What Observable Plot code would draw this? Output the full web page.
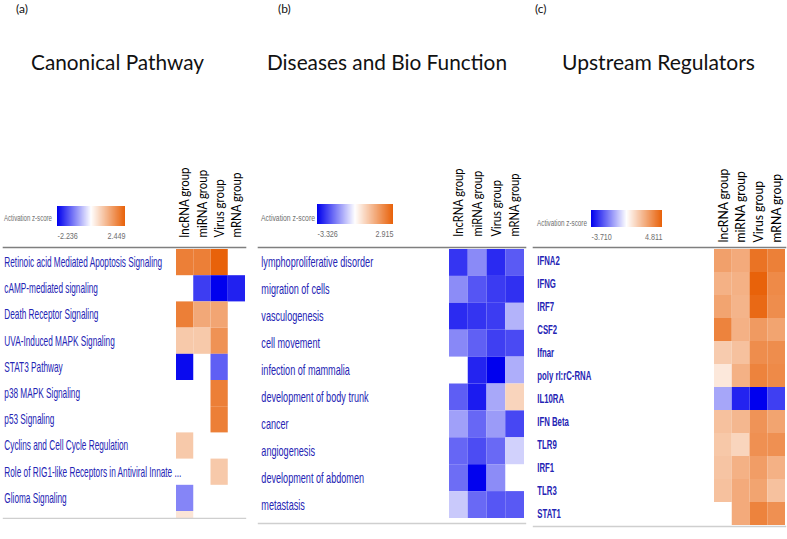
<!DOCTYPE html>
<html>
<head>
<meta charset="utf-8">
<script src="https://cdn.jsdelivr.net/npm/d3@7"></script>
<script src="https://cdn.jsdelivr.net/npm/@observablehq/plot@0.6"></script>
<style>
html, body { margin: 0; padding: 0; background: #fff; }
#root { position: relative; width: 787px; height: 539px; overflow: hidden; background: #fff; }
#root > svg, #root > div { position: absolute; }
</style>
</head>
<body>
<div id="root"></div>
<script>
// ---------- data ----------
const groups = ["lncRNA group", "miRNA group", "Virus group", "mRNA group"];

const pathways = [
  "Retinoic acid Mediated Apoptosis Signaling",
  "cAMP-mediated signaling",
  "Death Receptor Signaling",
  "UVA-Induced MAPK Signaling",
  "STAT3 Pathway",
  "p38 MAPK Signaling",
  "p53 Signaling",
  "Cyclins and Cell Cycle Regulation",
  "Role of RIG1-like Receptors in Antiviral Innate ...",
  "Glioma Signaling",
  "Aryl Hydrocarbon Receptor Signaling"
];
const pathwayZ = [
  [2.0, 2.0, 2.449, null],
  [null, -1.7, -2.236, -1.95],
  [2.0, 1.35, 1.4, null],
  [0.85, 0.85, 1.7, null],
  [-2.15, null, -1.4, null],
  [null, null, 2.0, null],
  [null, null, 2.0, null],
  [0.85, null, null, null],
  [null, null, 0.85, null],
  [-1.07, null, null, null],
  [0.4, null, null, null]
];
const pathwayRange = [-2.236, 2.449];

const diseases = [
  "lymphoproliferative disorder",
  "migration of cells",
  "vasculogenesis",
  "cell movement",
  "infection of mammalia",
  "development of body trunk",
  "cancer",
  "angiogenesis",
  "development of abdomen",
  "metastasis"
];
const diseaseZ = [
  [-2.63, -1.53, -2.78, -2.15],
  [-1.5, -2.22, -2.56, -2.7],
  [-2.76, -2.65, -2.54, -0.99],
  [-1.55, -2.07, -2.5, -2.36],
  [null, -2.86, -3.326, -1.06],
  [-2.1, -2.98, -1.13, 0.8],
  [-1.24, -1.98, -1.3, -2.4],
  [-2.0, -2.33, -1.95, -0.6],
  [-1.9, -3.3, -1.5, null],
  [-0.7, -1.95, -2.2, -2.17]
];
const diseaseRange = [-3.326, 2.915];

const regulators = [
  "IFNA2", "IFNG", "IRF7", "CSF2", "Ifnar", "poly rI:rC-RNA",
  "IL10RA", "IFN Beta", "TLR9", "IRF1", "TLR3", "STAT1"
];
const regulatorZ = [
  [2.9, 2.6, 4.3, 3.9],
  [2.4, 2.4, 4.811, 3.6],
  [2.8, 2.3, 4.6, 3.5],
  [3.8, 2.4, 3.1, 2.8],
  [1.6, 1.9, 3.5, 3.5],
  [0.7, 2.4, 3.8, 3.6],
  [-1.3, -3.2, -3.71, -2.8],
  [1.9, 2.2, 3.3, 2.8],
  [1.7, 1.3, 3.4, 3.4],
  [1.8, 2.4, 3.0, 2.4],
  [1.9, 2.6, 2.8, 1.9],
  [null, 2.6, 3.8, 3.4]
];
const regulatorRange = [-3.710, 4.811];

const panelLetters = ["(a)", "(b)", "(c)"];
const panelTitles = ["Canonical Pathway", "Diseases and Bio Function", "Upstream Regulators"];
const legendLabel = "Activation z-score";

// ---------- style / layout ----------
const BLUE = "#0000ee";
const ORANGE = "#e8620a";
const ROWCOLOR = "#2424b4";

const panels = [
  {rows: pathways, z: pathwayZ, range: pathwayRange,
   left: 0, width: 255, height: 519, mL: 3, mR: 10, mT: 247, mB: 1,
   cellX: [176, 245], cellY: [249, 249 + 11 * 26.2],
   labelX: 4, fitRow: 0, rowTarget: 158, rowSize: 14, colPad: 10, colTarget: 70, rowWeight: "normal",
   letterX: 16, titleX: 31, titleW: 173,
   legLabX: 4, legLabW: 48, legLabY: 221, barX: [57, 125], barY: [206, 226]},
  {rows: diseases, z: diseaseZ, range: diseaseRange,
   left: 255, width: 275, height: 525, mL: 3, mR: 5, mT: 247, mB: 2,
   cellX: [194, 269], cellY: [249, 518],
   labelX: 6, fitRow: 0, rowTarget: 112, rowSize: 14, colPad: 11, colTarget: 68, rowWeight: "normal",
   letterX: 278, titleX: 267, titleW: 240,
   legLabX: 261, legLabW: 54, legLabY: 221, barX: [317, 393], barY: [204, 224]},
  {rows: regulators, z: regulatorZ, range: regulatorRange,
   left: 530, width: 257, height: 528, mL: 3, mR: 2, mT: 247, mB: 2,
   cellX: [184, 255], cellY: [249, 525],
   labelX: 7, fitRow: 5, rowTarget: 54, rowSize: 13, colPad: 5, colTarget: 74, rowWeight: "bold",
   letterX: 535, titleX: 562, titleW: 193,
   legLabX: 537, legLabW: 50, legLabY: 226, barX: [591, 662], barY: [210, 227]}
];

const root = document.getElementById("root");
const NS = "http://www.w3.org/2000/svg";

function colorOpts(range) {
  return {type: "linear", domain: [range[0], 0, range[1]], range: [BLUE, "#ffffff", ORANGE]};
}

panels.forEach((p) => {
  const data = [];
  p.rows.forEach((r, i) => groups.forEach((g, j) => {
    const v = p.z[i][j];
    if (v != null) data.push({row: r, group: g, z: v});
  }));
  const svg = Plot.plot({
    width: p.width, height: p.height,
    marginLeft: p.mL, marginRight: p.mR, marginTop: p.mT, marginBottom: p.mB,
    style: {fontFamily: "'Liberation Sans', Arial, sans-serif", background: "transparent", overflow: "hidden"},
    x: {type: "band", domain: groups, range: p.cellX, padding: 0, round: false},
    y: {type: "band", domain: p.rows, range: p.cellY, padding: 0, round: false},
    color: colorOpts(p.range),
    marks: [
      Plot.cell(data, {x: "group", y: "row", fill: "z"}),
      Plot.axisX({anchor: "top", label: null, tickRotate: -90, tickSize: 0, tickPadding: p.colPad,
        fontSize: 13, fontFamily: "Lato, 'Open Sans', sans-serif", fill: "#000"}),
      Plot.axisY({anchor: "left", label: null, tickSize: 0, tickPadding: -(p.labelX - p.mL), textAnchor: "start",
        fontSize: p.rowSize, fill: ROWCOLOR, fontWeight: p.rowWeight}),
      Plot.frame({anchor: "top", stroke: "#7f7f7f", strokeWidth: 1.6}),
      Plot.frame({anchor: "bottom", stroke: "#cfcfcf", strokeWidth: 1.4})
    ]
  });
  svg.style.left = p.left + "px";
  svg.style.top = "0px";
  root.appendChild(svg);

  // horizontally condense the row labels to the reference's narrow type
  const yg = svg.querySelector('g[aria-label="y-axis tick label"]');
  if (yg) {
    const texts = yg.querySelectorAll("text");
    const t = texts[p.fitRow];
    const len = t ? t.getComputedTextLength() : 0;
    if (len > 0) {
      const s = p.rowTarget / len;
      const wrap = document.createElementNS(NS, "g");
      wrap.setAttribute("transform", `translate(${p.labelX},0) scale(${s},1) translate(${-p.labelX},0)`);
      yg.parentNode.insertBefore(wrap, yg);
      wrap.appendChild(yg);
    }
  }
  // fit the rotated column labels to their length
  const xg = svg.querySelector('g[aria-label="x-axis tick label"]');
  if (xg) {
    const t = xg.querySelector("text");
    const len = t ? t.getComputedTextLength() : 0;
    if (len > 0) {
      const s = p.colTarget / len;
      const y0 = p.mT - p.colPad;
      const wrap = document.createElementNS(NS, "g");
      wrap.setAttribute("transform", `translate(0,${y0}) scale(1,${s}) translate(0,${-y0})`);
      xg.parentNode.insertBefore(wrap, xg);
      wrap.appendChild(xg);
    }
  }

  // legend ramp
  const m = 20;
  const barW = p.barX[1] - p.barX[0];
  const barH = p.barY[1] - p.barY[0];
  const leg = Plot.legend({
    color: colorOpts(p.range),
    legend: "ramp",
    width: barW + 2 * m, height: barH + 22,
    marginLeft: m, marginRight: m, marginTop: 0, marginBottom: 22,
    tickSize: 4, ticks: p.range, tickFormat: (d) => d.toFixed(3),
    label: null,
    style: {fontSize: "9px", fontFamily: "'Liberation Sans', Arial, sans-serif", color: "#6e6e6e", background: "transparent", overflow: "visible"}
  });
  leg.querySelectorAll(".tick line").forEach((l) => l.remove());
  const tt = leg.querySelectorAll(".tick text");
  if (tt.length) {
    tt[0].setAttribute("text-anchor", "start");
    tt[tt.length - 1].setAttribute("text-anchor", "end");
    tt.forEach((t) => t.setAttribute("transform", "scale(0.8,1)"));
  }
  leg.style.left = (p.barX[0] - m) + "px";
  leg.style.top = p.barY[0] + "px";
  leg.style.position = "absolute";
  leg.style.maxWidth = "none";
  root.appendChild(leg);
});

// overlay texts: panel letters, titles, legend captions
const over = document.createElementNS(NS, "svg");
over.setAttribute("width", 787);
over.setAttribute("height", 539);
over.style.left = "0px";
over.style.top = "0px";
over.style.pointerEvents = "none";
root.appendChild(over);
function addText(str, x, y, size, fill, family, width) {
  const t = document.createElementNS(NS, "text");
  t.setAttribute("x", x);
  t.setAttribute("y", y);
  t.setAttribute("font-size", size);
  t.setAttribute("fill", fill);
  t.setAttribute("font-family", family);
  if (width) {
    t.setAttribute("textLength", width);
    t.setAttribute("lengthAdjust", "spacingAndGlyphs");
  }
  t.textContent = str;
  over.appendChild(t);
}
panels.forEach((p, i) => {
  addText(panelLetters[i], p.letterX, 12.5, 12, "#111", "Lato, 'Open Sans', sans-serif", null);
  addText(panelTitles[i], p.titleX, 70, 21, "#111", "Lato, 'Open Sans', sans-serif", p.titleW);
  addText(legendLabel, p.legLabX, p.legLabY, 9, "#6e6e6e", "'Liberation Sans', Arial, sans-serif", p.legLabW);
});
</script>
</body>
</html>
